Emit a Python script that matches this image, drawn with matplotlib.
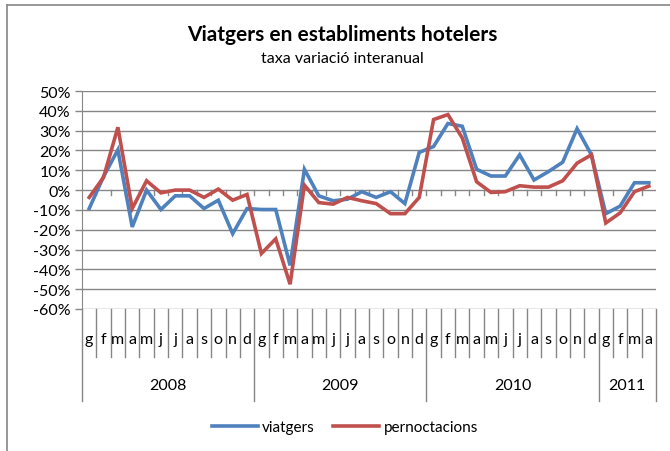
import matplotlib
matplotlib.use("Agg")
import matplotlib.pyplot as plt
from matplotlib.lines import Line2D

plt.rcParams['font.family'] = ['Lato', 'DejaVu Sans']

months = ['g', 'f', 'm', 'a', 'm', 'j', 'j', 'a', 's', 'o', 'n', 'd']
years = ['2008', '2009', '2010', '2011']
year_counts = [12, 12, 12, 4]

viatgers = [-9.3, 6.8, 20.3, -18.6, 0.0, -9.8, -2.9, -2.9, -9.3, -5.1, -22.0, -9.3,
            -9.8, -9.8, -38.0, 10.5, -2.9, -5.4, -4.6, -0.8, -3.7, -0.8, -6.8, 19.0,
            22.0, 33.6, 32.2, 10.5, 7.1, 7.1, 17.8, 5.1, 9.3, 14.1, 31.0, 17.8,
            -11.9, -8.1, 3.7, 3.7]
pernoctacions = [-3.7, 6.4, 31.7, -9.3, 4.7, -1.4, 0.0, 0.0, -3.7, 0.5, -5.1, -2.2,
                 -32.0, -24.6, -47.5, 2.5, -6.3, -7.1, -3.7, -5.4, -6.8, -11.9, -11.9, -3.7,
                 35.6, 38.1, 26.3, 4.2, -1.2, -0.8, 2.2, 1.5, 1.5, 4.7, 13.6, 17.8,
                 -16.6, -11.5, -0.8, 2.0]

W, H = 670, 452
fig = plt.figure(figsize=(W / 100, H / 100), dpi=100)
L, R, T, B = 82, 656, 92, 310
ax = fig.add_axes([L / W, 1 - B / H, (R - L) / W, (B - T) / H])

n = len(viatgers)
x = list(range(n))
ax.plot(x, viatgers, color='#4F81BD', lw=2.6, solid_joinstyle='miter', label='viatgers', zorder=3)
ax.plot(x, pernoctacions, color='#C0504D', lw=2.6, solid_joinstyle='miter', label='pernoctacions', zorder=3)

ax.set_xlim(-0.5, n - 0.5)
ax.set_ylim(-60, 50)
yt = list(range(-60, 51, 10))
ax.set_yticks(yt)
ax.set_yticklabels([f'{v}%' for v in yt], fontsize=11.5)
ax.tick_params(axis='y', length=5, color='#868686', width=1, pad=3)
ax.set_xticks([])
for s in ['top', 'right', 'bottom']:
    ax.spines[s].set_visible(False)
ax.spines['left'].set_color('#868686')
ax.grid(axis='y', color='#868686', lw=1)
ax.set_axisbelow(True)

# zero-line tick marks at category boundaries
for i in range(1, n):
    ax.plot([i - 0.5, i - 0.5], [0, -2.5], color='#868686', lw=1, zorder=2)

# category axis below
trans = ax.get_xaxis_transform()
px = 1.0 / (B - T)
all_months = []
for c in year_counts:
    all_months += months[:c]
for i, m in enumerate(all_months):
    ax.text(i, -(340 - B) * px, m, transform=trans, ha='center', va='center', fontsize=11.5)
bounds = [0]
for c in year_counts:
    bounds.append(bounds[-1] + c)
year_bounds = set(bounds)
for i in range(n + 1):
    ylow = -(402 - B) * px if i in year_bounds else -(358 - B) * px
    ax.add_line(Line2D([i - 0.5, i - 0.5], [0, ylow], transform=trans, color='#868686',
                       lw=1, clip_on=False))
for k, yname in enumerate(years):
    mid = (bounds[k] + bounds[k + 1]) / 2 - 0.5
    ax.text(mid, -(386 - B) * px, yname, transform=trans, ha='center', va='center', fontsize=11.5)

fig.text(342 / W, 1 - 35 / H, 'Viatgers en establiments hotelers', ha='center', va='center',
         fontsize=15, fontweight='bold')
fig.text(342 / W, 1 - 59 / H, 'taxa variació interanual', ha='center', va='center', fontsize=11.5)

fig.legend(loc='center', bbox_to_anchor=(345 / W, 1 - 428 / H), ncol=2, frameon=False,
           fontsize=11, handlelength=3.0, columnspacing=1.2, handletextpad=0.3)

# chart border (left and top)
fig.add_artist(Line2D([7 / W, 7 / W], [0, 1 - 6 / H], transform=fig.transFigure, color='#868686', lw=1.2))
fig.add_artist(Line2D([7 / W, 1], [1 - 6 / H, 1 - 6 / H], transform=fig.transFigure, color='#868686', lw=1.2))

fig.savefig('out.png', dpi=100)
